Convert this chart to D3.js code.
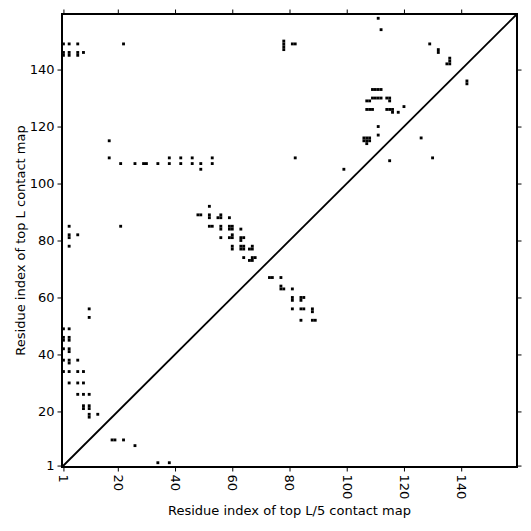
<!DOCTYPE html>
<html>
<head>
<meta charset="utf-8">
<script src="https://cdn.jsdelivr.net/npm/d3@7"></script>
<style>
  html, body { margin: 0; padding: 0; background: #fff; }
  svg { display: block; }
  text { font-family: "DejaVu Sans", sans-serif; fill: #000; }
</style>
</head>
<body>
<svg id="chart" width="531" height="531"></svg>
<script>
// Residue domain of the contact map
const residueMin = 0.5;
const residueMax = 159.5;
const tickValues = [1, 20, 40, 60, 80, 100, 120, 140];
const xLabel = "Residue index of top L/5 contact map";
const yLabel = "Residue index of top L contact map";

// Upper triangle: top L contacts (x = i, y = j)
const topLContacts = [
  [1,149],[3,149],[6,149],[22,149],
  [1,145],[1,146],[3,145],[3,146],[6,145],[6,146],[8,146],
  [17,115],[17,109],
  [21,107],[26,107],[29,107],[30,107],[34,107],[38,107],[38,109],[42,107],[42,109],
  [46,107],[46,109],[49,107],[49,105],[53,107],[53,109],
  [3,85],[3,81],[3,82],[3,78],[6,82],[21,85],
  [10,56],[10,53],
  [48,89],[49,89],[52,92],[52,89],[52,88],[52,85],[53,85],
  [55,88],[56,88],[56,89],[59,88],
  [56,85],[56,84],[59,85],[60,85],[59,84],[60,84],[63,84],
  [56,81],[60,82],[59,81],[60,81],[63,81],[64,81],[63,80],
  [60,78],[60,77],[63,78],[64,78],[63,77],[64,77],[67,78],[66,77],[67,77],
  [64,74],[67,74],[68,74],[66,73],[67,73],
  [1,49],[3,49],[1,46],[1,45],[3,46],[3,45],[1,42],[3,42],[3,41],
  [1,38],[3,38],[3,37],[6,38],[1,34],[3,34],[6,34],[8,34],
  [3,30],[6,30],[8,30],[6,26],[8,26],[10,26],
  [8,21],[8,22],[10,21],[10,22],[10,18],[10,19],[13,19],
  [78,147],[78,148],[78,149],[78,150],[81,149],[82,149],[82,109],[99,105],
  [111,158],[112,154],
  [109,133],[110,133],[111,133],[112,133],
  [107,129],[108,129],[109,130],[110,130],[111,130],[112,130],[114,130],[115,130],[115,129],
  [107,126],[108,126],[109,126],[114,126],[115,126],[116,126],[116,125],[118,125],[120,127],
  [111,120],[111,117],
  [106,115],[107,115],[108,115],[106,116],[107,116],[108,116],[107,114],
  [129,149],[132,147],[132,146],[136,144],[136,143],[136,142],[135,142]
];

// Lower triangle: top L/5 contacts (x = j, y = i)
const topL5Contacts = [
  [18,10],[19,10],[22,10],[26,8],[34,2],[38,2],
  [73,67],[74,67],[77,67],[77,64],[77,63],[78,63],[81,63],[81,60],[81,59],
  [84,60],[85,60],[84,59],[81,56],[84,56],[85,56],[88,56],[88,55],
  [84,52],[88,52],[89,52],
  [115,108],[126,116],[130,109],[142,136],[142,135]
];

const margin = { left: 62, right: 14, top: 14, bottom: 64 };
const W = 531, H = 531;
const svg = d3.select("#chart");

const x = d3.scaleLinear().domain([residueMin, residueMax]).range([margin.left, W - margin.right]);
const y = d3.scaleLinear().domain([residueMin, residueMax]).range([H - margin.bottom, margin.top]);

const allContacts = topLContacts.concat(topL5Contacts);

svg.append("g")
  .selectAll("rect")
  .data(allContacts)
  .join("rect")
  .attr("x", d => x(d[0] - 0.5))
  .attr("y", d => y(d[1] + 0.5))
  .attr("width", d => x(d[0] + 0.5) - x(d[0] - 0.5))
  .attr("height", d => y(d[1] - 0.5) - y(d[1] + 0.5))
  .attr("fill", "#000");

// diagonal
svg.append("line")
  .attr("x1", x(residueMin)).attr("y1", y(residueMin))
  .attr("x2", x(residueMax)).attr("y2", y(residueMax))
  .attr("stroke", "#000").attr("stroke-width", 1.8);

// axes
const tickLen = 4.5;
const gx = svg.append("g").attr("transform", `translate(0,${y(residueMin)})`)
  .call(d3.axisBottom(x).tickValues(tickValues).tickSize(tickLen).tickPadding(3));
gx.select(".domain").remove();
gx.selectAll("line").attr("stroke", "#000").attr("stroke-width", 1);
gx.selectAll("text")
  .attr("font-size", 13)
  .attr("text-anchor", "start")
  .attr("transform", d => "rotate(90)")
  .attr("x", 0)
  .attr("y", 0)
  .attr("dy", "0.35em")
  .each(function(d) {
    d3.select(this).attr("transform", `translate(0,${tickLen + 3}) rotate(90)`);
  });

const gy = svg.append("g").attr("transform", `translate(${x(residueMin)},0)`)
  .call(d3.axisLeft(y).tickValues(tickValues).tickSize(tickLen).tickPadding(3));
gy.select(".domain").remove();
gy.selectAll("line").attr("stroke", "#000").attr("stroke-width", 1);
gy.selectAll("text").attr("font-size", 13);

const gt = svg.append("g").attr("transform", `translate(0,${y(residueMax)})`)
  .call(d3.axisTop(x).tickValues(tickValues).tickSize(tickLen).tickFormat(""));
gt.select(".domain").remove();
gt.selectAll("line").attr("stroke", "#000");

const gr = svg.append("g").attr("transform", `translate(${x(residueMax)},0)`)
  .call(d3.axisRight(y).tickValues(tickValues).tickSize(tickLen).tickFormat(""));
gr.select(".domain").remove();
gr.selectAll("line").attr("stroke", "#000");

// frame
svg.append("rect")
  .attr("x", x(residueMin)).attr("y", y(residueMax))
  .attr("width", x(residueMax) - x(residueMin))
  .attr("height", y(residueMin) - y(residueMax))
  .attr("fill", "none").attr("stroke", "#000").attr("stroke-width", 2);

// axis labels
svg.append("text")
  .attr("x", (x(residueMin) + x(residueMax)) / 2)
  .attr("y", 515)
  .attr("text-anchor", "middle")
  .attr("font-size", 13)
  .text(xLabel);

svg.append("text")
  .attr("transform", `translate(25,${(y(residueMin) + y(residueMax)) / 2}) rotate(-90)`)
  .attr("text-anchor", "middle")
  .attr("font-size", 13)
  .text(yLabel);
</script>
</body>
</html>
